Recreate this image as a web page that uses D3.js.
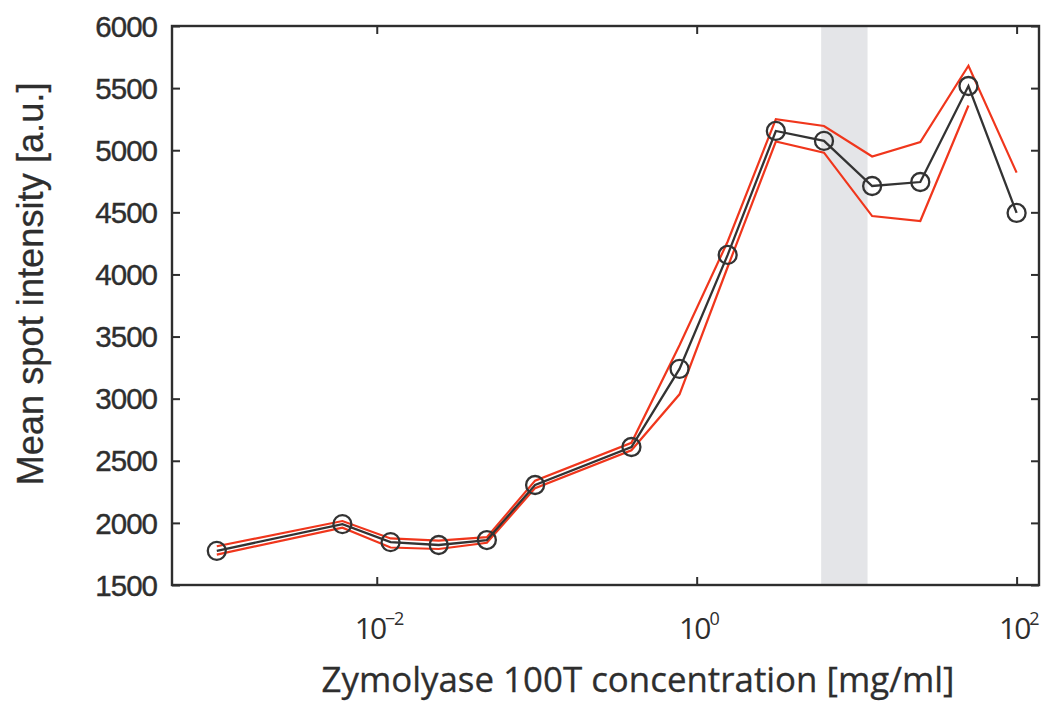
<!DOCTYPE html>
<html>
<head>
<meta charset="utf-8">
<script src="https://cdn.jsdelivr.net/npm/d3@7"></script>
<style>
  html, body { margin: 0; padding: 0; background: #fff; }
  svg { display: block; }
</style>
</head>
<body>
<svg id="chart" width="1048" height="703"></svg>
<script>
// Zymolyase 100T concentration series [mg/ml]
const concentration = [0.001, 0.0061, 0.0122, 0.0244, 0.0488, 0.0977, 0.391, 0.781, 1.5625, 3.125, 6.25, 12.5, 25, 50, 100];
// Mean spot intensity [a.u.]
const meanIntensity = [1775, 1990, 1845, 1822, 1862, 2305, 2611, 3240, 4157, 5155, 5075, 4712, 4744, 5517, 4495];
// Upper and lower bounds around the mean
const upperBound = [1812, 2015, 1875, 1858, 1885, 2340, 2645, 3430, 4265, 5250, 5195, 4950, 5065, 5680, 4820];
const lowerBound = [1745, 1962, 1802, 1790, 1840, 2280, 2585, 3035, 4060, 5070, 4980, 4470, 4430, 5360, null];
// Highlighted concentration window
const bandRange = [6.0, 11.7];
// Tick values
const yTicks = [1500, 2000, 2500, 3000, 3500, 4000, 4500, 5000, 5500, 6000];
const xTickExponents = [-2, 0, 2];

const svg = d3.select("#chart");
const L = 172, R = 1039, T = 26, B = 585;
const ink = "#2e2e2e";

const x = d3.scaleLog().domain([Math.pow(10, -3.28), Math.pow(10, 2.14)]).range([L, R]);
const y = d3.scaleLinear().domain([1500, 6000]).range([B, T]);

// shaded band
svg.append("rect")
  .attr("x", x(bandRange[0])).attr("y", T)
  .attr("width", x(bandRange[1]) - x(bandRange[0])).attr("height", B - T)
  .attr("fill", "#e4e5e8");

const pts = concentration.map((c, i) => ({ c, m: meanIntensity[i], u: upperBound[i], l: lowerBound[i] }));

const lineU = d3.line().x(d => x(d.c)).y(d => y(d.u));
const lineL = d3.line().defined(d => d.l !== null).x(d => x(d.c)).y(d => y(d.l));
const lineM = d3.line().x(d => x(d.c)).y(d => y(d.m));

svg.append("path").datum(pts).attr("d", lineU)
  .attr("fill", "none").attr("stroke", "#f0361c").attr("stroke-width", 2.2);
svg.append("path").datum(pts).attr("d", lineL)
  .attr("fill", "none").attr("stroke", "#f0361c").attr("stroke-width", 2.2);
svg.append("path").datum(pts).attr("d", lineM)
  .attr("fill", "none").attr("stroke", "#333").attr("stroke-width", 2.3);

svg.append("g").selectAll("circle").data(pts).join("circle")
  .attr("cx", d => x(d.c)).attr("cy", d => y(d.m)).attr("r", 9)
  .attr("fill", "none").attr("stroke", "#333").attr("stroke-width", 2.3);

// axes with inward ticks on all four sides
const tickLen = 8;
const xTickVals = xTickExponents.map(e => Math.pow(10, e));
const axB = svg.append("g").attr("transform", `translate(0,${B})`)
  .call(d3.axisBottom(x).tickValues(xTickVals).tickSize(-tickLen).tickFormat(""));
const axT = svg.append("g").attr("transform", `translate(0,${T})`)
  .call(d3.axisTop(x).tickValues(xTickVals).tickSize(-tickLen).tickFormat(""));
const axL = svg.append("g").attr("transform", `translate(${L},0)`)
  .call(d3.axisLeft(y).tickValues(yTicks).tickSize(-tickLen).tickFormat(""));
const axR = svg.append("g").attr("transform", `translate(${R},0)`)
  .call(d3.axisRight(y).tickValues(yTicks).tickSize(-tickLen).tickFormat(""));
[axB, axT, axL, axR].forEach(g => {
  g.select(".domain").remove();
  g.selectAll("line").attr("stroke", ink).attr("stroke-width", 2);
});
svg.append("rect").attr("x", L).attr("y", T).attr("width", R - L).attr("height", B - T)
  .attr("fill", "none").attr("stroke", ink).attr("stroke-width", 2.4);

// fit a text element's font size to a target width
function fitWidth(sel, target) {
  const node = sel.node();
  const fs = parseFloat(sel.attr("font-size"));
  const w = node.getComputedTextLength();
  if (w > 0) sel.attr("font-size", fs * target / w);
}

// y tick labels
const yLabG = svg.append("g");
yTicks.forEach(v => {
  yLabG.append("text")
    .attr("x", 157).attr("y", y(v)).attr("dy", "0.36em")
    .attr("text-anchor", "end")
    .attr("font-family", "Liberation Sans, Arial, sans-serif")
    .attr("font-size", 29.5).attr("fill", ink).attr("letter-spacing", -1)
    .attr("stroke", ink).attr("stroke-width", 0.4)
    .text(v);
});

// x tick labels: 10 with superscript exponent
xTickExponents.forEach(e => {
  const t = svg.append("text")
    .attr("x", x(Math.pow(10, e)) + 2).attr("y", 639)
    .attr("text-anchor", "middle")
    .attr("font-family", "Open Sans, Noto Sans, sans-serif")
    .attr("font-size", 30).attr("fill", ink);
  t.append("tspan").text("10").attr("letter-spacing", -2);
  t.append("tspan").text(e < 0 ? "\u2212" + Math.abs(e) : String(e))
    .attr("font-size", 18).attr("dy", -14).attr("letter-spacing", -1.5);
});

// axis titles
const xTitle = svg.append("text")
  .attr("x", 638).attr("y", 692).attr("text-anchor", "middle")
  .attr("font-family", "Open Sans, Noto Sans, sans-serif")
  .attr("font-size", 30).attr("fill", ink)
  .attr("stroke", ink).attr("stroke-width", 0.3)
  .text("Zymolyase 100T concentration [mg/ml]");
fitWidth(xTitle, 633);

const yTitle = svg.append("text")
  .attr("transform", `translate(43,284) rotate(-90)`)
  .attr("text-anchor", "middle")
  .attr("font-family", "Liberation Sans, Arial, sans-serif")
  .attr("font-size", 32).attr("fill", ink)
  .attr("stroke", ink).attr("stroke-width", 0.3)
  .text("Mean spot intensity [a.u.]");
fitWidth(yTitle, 403);
</script>
</body>
</html>
